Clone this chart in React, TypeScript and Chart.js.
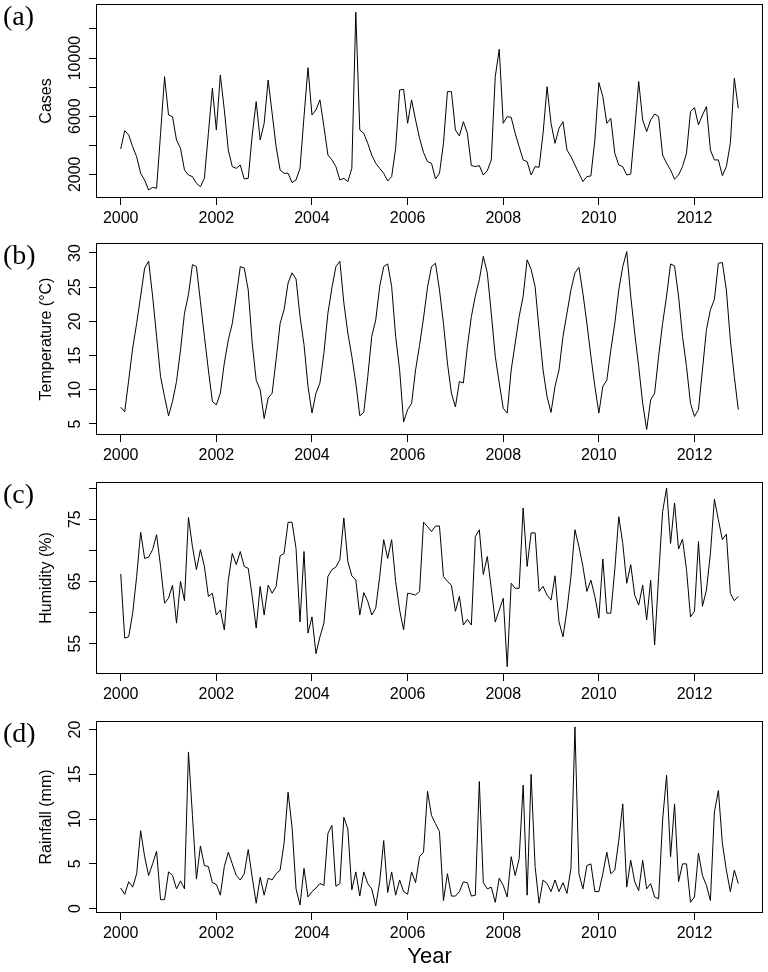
import React, { useEffect, useRef } from "react";
import { Chart, registerables } from "chart.js";

Chart.register(...registerables);

// ---------- data ----------
const startYear = 2000;
const xTicks = [2000, 2002, 2004, 2006, 2008, 2010, 2012];

const cases = [
  3740, 5005, 4700, 3900, 3200, 2070, 1600, 920, 1100, 1040, 4800, 8720,
  6080, 5970, 4360, 3790, 2300, 1950, 1840, 1380, 1150, 1720, 4820, 7920,
  5050, 8840, 6430, 3670, 2530, 2410, 2640, 1680, 1720, 4700, 7000, 4360,
  5510, 8490, 6200, 3900, 2300, 2070, 2070, 1430, 1610, 2410, 5970, 9340,
  6080, 6430, 7120, 5280, 3330, 2990, 2530, 1610, 1720, 1500, 2410, 13150,
  5050, 4820, 4130, 3330, 2760, 2410, 2070, 1540, 1840, 3790, 7800, 7850,
  5510, 7120, 5740, 4480, 3500, 2870, 2760, 1680, 2070, 4130, 7690, 7690,
  5050, 4640, 5620, 4820, 2600, 2530, 2600, 1950, 2250, 2990, 8720, 10600,
  5510, 5970, 5920, 4820, 3900, 2990, 2870, 1950, 2530, 2480, 4820, 8030,
  5510, 4130, 5170, 5620, 3670, 3220, 2640, 2070, 1500, 1840, 1890, 4360,
  8310, 7350, 5510, 5850, 3450, 2640, 2530, 1950, 2020, 5050, 8380, 5740,
  4940, 5740, 6150, 5970, 3330, 2760, 2300, 1660, 1950, 2530, 3450, 6310,
  6590, 5400, 6080, 6660, 3670, 2990, 2990, 1910, 2530, 4130, 8610, 6540,
];

const temperature = [
  7.44, 6.8, 11.4, 16.1, 19.7, 23.7, 27.8, 28.8, 23.7, 17.8, 11.9, 9.0,
  6.2, 8.3, 11.2, 15.8, 21.2, 23.9, 28.3, 28.0, 22.9, 17.8, 12.9, 8.3,
  7.8, 9.5, 13.9, 17.3, 19.7, 23.7, 28.0, 27.8, 24.6, 16.8, 11.4, 10.0,
  5.8, 8.8, 9.5, 14.4, 19.7, 21.7, 25.6, 27.1, 26.2, 20.7, 16.6, 10.5,
  6.6, 9.5, 11.0, 15.4, 21.2, 24.9, 28.0, 28.8, 22.7, 18.3, 14.9, 11.0,
  6.2, 6.7, 11.9, 17.8, 20.2, 25.1, 28.0, 28.4, 25.1, 17.8, 12.9, 5.3,
  7.1, 8.0, 12.9, 16.5, 20.5, 25.0, 28.0, 28.5, 24.6, 19.7, 13.9, 9.5,
  7.5, 11.2, 11.0, 16.3, 20.7, 23.7, 26.1, 29.5, 27.1, 21.2, 14.9, 11.0,
  7.3, 6.6, 12.9, 16.8, 20.7, 23.7, 29.0, 27.6, 25.1, 18.8, 12.9, 9.0,
  6.7, 10.5, 12.9, 17.8, 21.2, 24.6, 27.1, 27.9, 24.1, 19.7, 14.9, 10.5,
  6.6, 10.5, 11.4, 15.8, 19.7, 24.6, 28.0, 30.2, 23.7, 18.3, 13.4, 8.0,
  4.2, 8.5, 9.5, 14.9, 19.7, 23.7, 28.4, 28.1, 23.7, 17.8, 13.4, 8.0,
  6.1, 7.1, 12.9, 18.8, 21.7, 23.2, 28.5, 28.6, 24.6, 17.3, 11.9, 7.1,
];

const humidity = [
  66.2, 55.9, 56.1, 59.9, 65.8, 72.9, 68.7, 68.9, 70.1, 72.5, 67.4, 61.5,
  62.3, 64.4, 58.3, 65.0, 61.9, 75.3, 70.6, 66.9, 70.1, 67.4, 62.6, 63.1,
  59.6, 60.4, 57.2, 65.2, 69.5, 67.7, 69.8, 67.4, 67.1, 62.6, 57.5, 64.2,
  59.6, 64.4, 63.1, 64.2, 69.1, 69.5, 74.5, 74.5, 70.3, 58.5, 69.8, 56.7,
  59.3, 53.4, 56.1, 58.3, 65.8, 66.9, 67.3, 68.5, 75.2, 68.2, 65.9, 65.2,
  59.6, 63.2, 61.8, 59.6, 60.7, 65.8, 71.7, 68.7, 71.7, 65.0, 60.4, 57.2,
  63.1, 63.0, 62.8, 63.4, 74.5, 73.8, 73.0, 73.9, 73.9, 65.8, 65.0, 64.4,
  60.2, 62.6, 58.0, 58.9, 58.0, 72.2, 73.3, 66.1, 69.0, 63.9, 58.5, 60.4,
  62.3, 51.3, 64.7, 63.9, 63.9, 76.8, 67.4, 72.8, 72.8, 63.4, 64.2, 62.8,
  62.0, 65.9, 58.5, 56.1, 60.4, 65.8, 73.3, 70.6, 67.4, 63.4, 65.2, 62.6,
  59.1, 68.6, 59.9, 59.9, 66.9, 75.4, 71.1, 64.7, 67.7, 62.8, 61.2, 64.4,
  58.8, 65.2, 54.8, 65.8, 76.2, 80.0, 71.1, 77.6, 70.2, 71.8, 66.9, 59.3,
  60.2, 71.4, 61.0, 63.6, 69.5, 78.2, 74.9, 71.7, 72.6, 63.1, 61.9, 62.6,
];

const rainfall = [
  2.3, 1.6, 3.0, 2.4, 3.9, 8.7, 5.8, 3.7, 5.0, 6.4, 1.0, 1.0,
  4.1, 3.7, 2.2, 3.1, 2.2, 17.5, 10.4, 3.3, 7.0, 4.8, 4.7, 2.9,
  2.7, 1.5, 4.7, 6.3, 5.0, 3.7, 3.2, 3.9, 6.6, 3.5, 0.6, 3.5,
  1.5, 3.4, 3.2, 3.9, 4.3, 7.3, 13.0, 9.1, 2.2, 0.4, 4.5, 1.3,
  1.9, 2.3, 2.8, 2.6, 8.4, 9.3, 2.5, 2.8, 10.2, 8.9, 2.1, 4.1,
  1.4, 4.1, 2.8, 2.2, 0.3, 3.0, 7.6, 1.8, 4.1, 1.5, 3.2, 1.9,
  1.6, 4.1, 2.9, 5.8, 6.3, 13.1, 10.4, 9.5, 8.6, 0.9, 3.9, 1.4,
  1.4, 1.9, 3.0, 2.9, 1.4, 1.5, 14.2, 2.9, 2.2, 2.4, 0.7, 3.4,
  2.6, 1.3, 5.8, 3.7, 5.6, 13.8, 1.5, 15.0, 4.7, 0.6, 3.2, 2.8,
  1.9, 3.2, 1.9, 2.9, 1.7, 4.5, 20.3, 3.9, 2.2, 4.8, 5.0, 1.9,
  1.9, 3.9, 6.3, 3.9, 4.3, 7.6, 11.7, 2.4, 5.4, 3.0, 2.0, 5.4,
  2.2, 2.8, 1.3, 1.1, 9.9, 14.9, 5.8, 11.7, 3.0, 5.0, 5.0, 0.7,
  1.3, 6.2, 3.7, 2.6, 0.9, 10.8, 13.2, 7.3, 4.3, 1.9, 4.3, 2.8,
];

const casesTicks = [2000, 4000, 6000, 8000, 10000, 12000];
const casesLabels = [2000, 6000, 10000];
const temperatureTicks = [5, 10, 15, 20, 25, 30];
const temperatureLabels = [5, 10, 15, 20, 25, 30];
const humidityTicks = [55, 60, 65, 70, 75, 80];
const humidityLabels = [55, 65, 75];
const rainfallTicks = [0, 5, 10, 15, 20];
const rainfallLabels = [0, 5, 10, 15, 20];

// ---------- layout / style ----------
const SANS = '"Liberation Sans", Arial, Helvetica, sans-serif';
const SERIF = '"Liberation Serif", "Times New Roman", serif';
const X_MIN = 1999.483;
const X_MAX = 2013.433;

type Panel = {
  letter: string;
  title: string;
  values: number[];
  yMin: number;
  yMax: number;
  ticks: number[];
  labels: number[];
  top: number;
  height: number;
  boxTop: number;
  boxBottom: number;
  xTitle?: string;
};

const panels: Panel[] = [
  { letter: "(a)", title: "Cases", values: cases, yMin: 369, yMax: 13720, ticks: casesTicks, labels: casesLabels, top: 0, height: 239, boxTop: 4, boxBottom: 198 },
  { letter: "(b)", title: "Temperature (°C)", values: temperature, yMin: 3.39, yMax: 31.46, ticks: temperatureTicks, labels: temperatureLabels, top: 239, height: 239, boxTop: 4, boxBottom: 196 },
  { letter: "(c)", title: "Humidity (%)", values: humidity, yMin: 50.13, yMax: 80.97, ticks: humidityTicks, labels: humidityLabels, top: 478, height: 239, boxTop: 4, boxBottom: 196 },
  { letter: "(d)", title: "Rainfall (mm)", values: rainfall, yMin: -0.49, yMax: 20.96, ticks: rainfallTicks, labels: rainfallLabels, top: 717, height: 255, boxTop: 4, boxBottom: 196, xTitle: "Year" },
];

const decorPlugin = {
  id: "panelDecor",
  afterDraw(chart: any, _args: any, opts: any) {
    const { ctx, chartArea } = chart;
    ctx.save();
    ctx.strokeStyle = "#000";
    ctx.lineWidth = 1;
    const l = Math.round(chartArea.left) + 0.5;
    const t = Math.round(chartArea.top) + 0.5;
    const r = Math.round(chartArea.right) - 0.5;
    const b = Math.round(chartArea.bottom) - 0.5;
    ctx.strokeRect(l, t, r - l, b - t);

    const ys = chart.scales.y;
    ctx.fillStyle = "#000";
    ctx.font = `16px ${SANS}`;
    ctx.textAlign = "center";
    ctx.textBaseline = "middle";
    for (const v of opts.labels as number[]) {
      const y = ys.getPixelForValue(v);
      ctx.save();
      ctx.translate(76, y);
      ctx.rotate(-Math.PI / 2);
      ctx.fillText(String(v), 0, 0);
      ctx.restore();
    }

    ctx.font = `28px ${SERIF}`;
    ctx.textAlign = "left";
    ctx.textBaseline = "middle";
    ctx.fillText(opts.letter, 3, 18);
    ctx.restore();
  },
};

function PanelChart({ p }: { p: Panel }) {
  const ref = useRef<HTMLCanvasElement | null>(null);
  useEffect(() => {
    if (!ref.current) return;
    const xAxisH = p.height - p.boxBottom;
    const chart = new Chart(ref.current, {
      type: "line",
      data: {
        datasets: [
          {
            data: p.values.map((v, i) => ({ x: startYear + i / 12, y: v })),
            borderColor: "#000",
            borderWidth: 1,
            pointRadius: 0,
            fill: false,
            tension: 0,
          },
        ],
      },
      plugins: [decorPlugin as any],
      options: {
        animation: false,
        responsive: false,
        maintainAspectRatio: false,
        events: [],
        layout: { padding: { top: p.boxTop, left: 0, right: 5, bottom: 0 } },
        plugins: {
          legend: { display: false },
          tooltip: { enabled: false },
          panelDecor: { labels: p.labels, letter: p.letter },
        } as any,
        scales: {
          x: {
            type: "linear",
            min: X_MIN,
            max: X_MAX,
            afterBuildTicks: (s: any) => {
              s.ticks = xTicks.map((v) => ({ value: v }));
            },
            afterFit: (s: any) => {
              s.height = xAxisH;
            },
            grid: { display: true, drawOnChartArea: false, drawTicks: true, tickLength: 7, color: "#000", lineWidth: 1 },
            border: { display: false },
            ticks: {
              display: true,
              autoSkip: false,
              maxRotation: 0,
              minRotation: 0,
              padding: 3.5,
              color: "#000",
              font: { family: SANS, size: 16, lineHeight: 1.2 },
              callback: (v: any) => String(v),
            },
            title: {
              display: !!p.xTitle,
              text: p.xTitle || "",
              color: "#000",
              font: { family: SANS, size: 22, lineHeight: 1.2 },
              padding: { top: 0, bottom: 1.8 },
            },
          },
          y: {
            type: "linear",
            min: p.yMin,
            max: p.yMax,
            afterBuildTicks: (s: any) => {
              s.ticks = p.ticks.map((v) => ({ value: v }));
            },
            afterFit: (s: any) => {
              s.width = 96;
            },
            grid: { display: true, drawOnChartArea: false, drawTicks: true, tickLength: 7, color: "#000", lineWidth: 1 },
            border: { display: false },
            ticks: { display: false },
            title: {
              display: true,
              text: p.title,
              color: "#000",
              font: { family: SANS, size: 16, lineHeight: 1 },
              padding: { top: 39, bottom: 0 },
            },
          },
        },
      },
    });
    return () => chart.destroy();
  }, [p]);
  return (
    <canvas
      ref={ref}
      width={768}
      height={p.height}
      style={{ position: "absolute", left: 0, top: p.top, width: 768, height: p.height }}
    />
  );
}

export default function App() {
  return (
    <div style={{ position: "absolute", left: 0, top: 0, width: 768, height: 972, background: "#fff", overflow: "hidden" }}>
      {panels.map((p) => (
        <PanelChart key={p.letter} p={p} />
      ))}
    </div>
  );
}
